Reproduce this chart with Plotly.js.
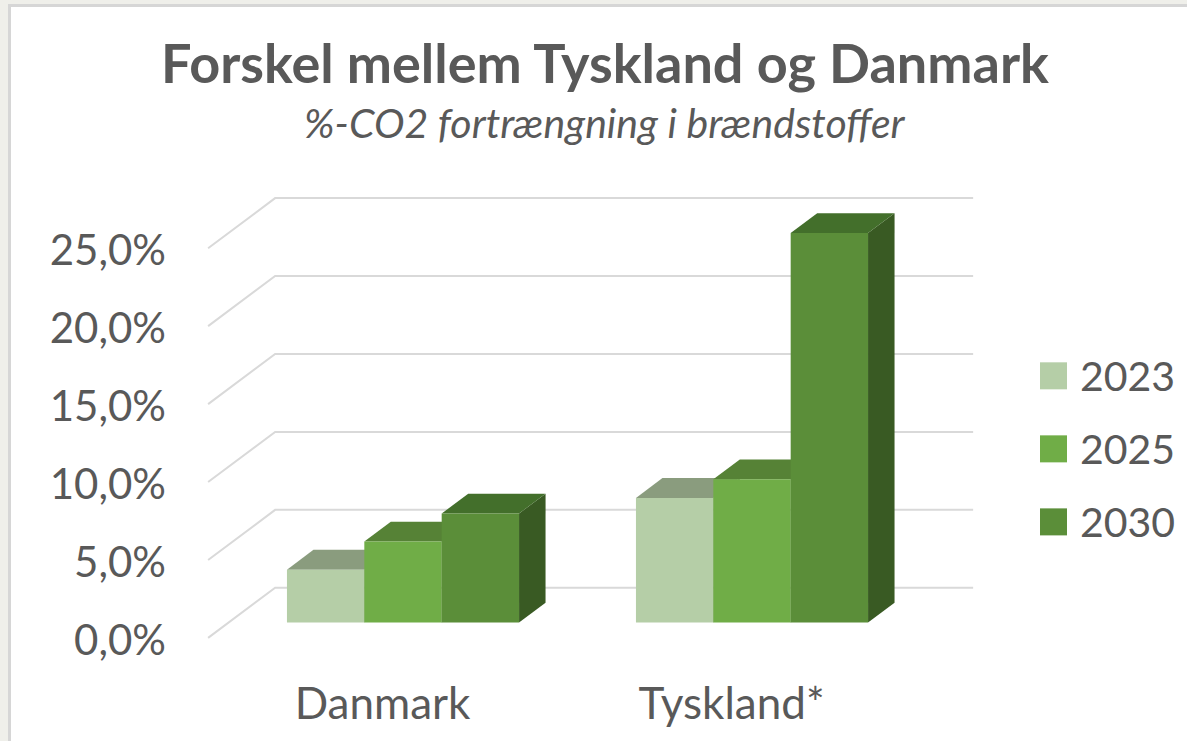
<!DOCTYPE html>
<html>
<head>
<meta charset="utf-8">
<script src="https://cdn.plot.ly/plotly-3.0.1.min.js"></script>
<style>
  html, body { margin: 0; padding: 0; background: #efefea; width: 1187px; height: 741px; overflow: hidden; }
  #frame { position: absolute; left: 8px; top: 4px; width: 1179px; height: 737px; background: #ffffff;
           border-left: 3px solid #d6d6d6; border-top: 3px solid #d6d6d6; box-sizing: border-box; }
  #chart { position: absolute; left: 0; top: 0; width: 1187px; height: 741px; }
</style>
</head>
<body>
<div id="frame"></div>
<div id="chart"></div>
<script>
// ---- data ----
const categories = ['Danmark', 'Tyskland*'];
const seriesNames = ['2023', '2025', '2030'];
const values2023 = [3.4, 8.0];
const values2025 = [5.2, 9.2];
const values2030 = [7.0, 25.0];
const yTicks = [0, 5, 10, 15, 20, 25];
const yTickLabels = ['0,0%', '5,0%', '10,0%', '15,0%', '20,0%', '25,0%'];

// ---- styling ----
const frontColors = ['#b5cea7', '#70ad47', '#5b8e39'];
const topColors   = ['#8a9c7e', '#568236', '#436f2b'];
const sideColors  = ['#7d9470', '#4a7530', '#395a23'];
const textColor = '#595959';
const FONT = 'Lato, "Open Sans", sans-serif';

const WIDTH = 1187, HEIGHT = 741;
const CAT0_PX = 403, PX_PER_CAT = 349;   // horizontal scale of bar front plane
const Y0_PX = 622.7, PX_PER_PCT = 15.58; // vertical scale of bar front plane
const Y_MIN = -1.5, Y_MAX = 27.5;
const L = 168, R = 197;
const T = Y0_PX - Y_MAX * PX_PER_PCT;
const B = HEIGHT - (Y0_PX - Y_MIN * PX_PER_PCT);
const PW = WIDTH - L - R, PH = HEIGHT - T - B;
const X_MIN = (L - CAT0_PX) / PX_PER_CAT;
const X_MAX = (WIDTH - R - CAT0_PX) / PX_PER_CAT;
const BARGAP = 0.335;
const DXU = 26.5 / PX_PER_CAT;   // one bar depth, in x units
const DYU = 19.8 / PX_PER_PCT;   // one bar depth, in y units
const FRONT = -0.77, BACK = 1.76; // floor front edge / back wall, in bar depths
const LABEL_DY = -0.15;           // small vertical nudge of value labels

const px2paperX = p => (p - L) / PW;
const px2paperY = p => 1 - (p - T) / PH;

const seriesValues = [values2023, values2025, values2030];
const nS = seriesValues.length;
const bw = (1 - BARGAP) / nS;

// ---- traces ----
const traces = seriesValues.map((vals, s) => ({
  type: 'bar', x: categories.map((c, i) => i), y: vals, name: seriesNames[s],
  marker: { color: frontColors[s], line: { width: 0 } },
  hoverinfo: 'skip', showlegend: false
}));
// carrier trace for the label axes (invisible)
traces.push({
  type: 'scatter', mode: 'markers', x: categories.map((c, i) => i), y: categories.map(() => 0),
  xaxis: 'x2', yaxis: 'y2', marker: { opacity: 0 }, hoverinfo: 'skip', showlegend: false
});

// ---- shapes: gridlines (3D walls) ----
const shapes = [];
const xl = -0.5, xr = categories.length - 0.5;
yTicks.forEach(v => {
  const ax = xl + FRONT * DXU, ay = v + FRONT * DYU;
  const bx = xl + BACK * DXU,  by = v + BACK * DYU;
  const cx = xr + BACK * DXU;
  shapes.push({ type: 'path', xref: 'x', yref: 'y', layer: 'below',
    path: `M${ax},${ay} L${bx},${by} L${cx},${by}`,
    line: { color: '#d9d9d9', width: 2 } });
});
// ---- shapes: bar tops and sides ----
categories.forEach((c, i) => {
  seriesValues.forEach((vals, s) => {
    const v = vals[i];
    const center = i + (s - (nS - 1) / 2) * bw;
    const x0 = center - bw / 2, x1 = center + bw / 2;
    shapes.push({ type: 'path', xref: 'x', yref: 'y', layer: 'below',
      path: `M${x1},0 L${x1},${v} L${x1 + DXU},${v + DYU} L${x1 + DXU},${DYU} Z`,
      fillcolor: sideColors[s], line: { width: 0 } });
    shapes.push({ type: 'path', xref: 'x', yref: 'y', layer: 'below',
      path: `M${x0},${v} L${x1},${v} L${x1 + DXU},${v + DYU} L${x0 + DXU},${v + DYU} Z`,
      fillcolor: topColors[s], line: { width: 0 } });
  });
});

// ---- custom legend ----
const annotations = [];
const LEG_X0 = 1040, LEG_SIZE = 27, LEG_Y0 = 376, LEG_STEP = 73;
seriesNames.forEach((n, s) => {
  const cy = LEG_Y0 + s * LEG_STEP;
  shapes.push({ type: 'rect', xref: 'paper', yref: 'paper', layer: 'above',
    x0: px2paperX(LEG_X0), x1: px2paperX(LEG_X0 + LEG_SIZE),
    y0: px2paperY(cy + LEG_SIZE / 2), y1: px2paperY(cy - LEG_SIZE / 2),
    fillcolor: frontColors[s], line: { width: 0 } });
  annotations.push({ xref: 'paper', yref: 'paper', x: px2paperX(1078), y: px2paperY(cy),
    xanchor: 'left', yanchor: 'middle', showarrow: false, text: n,
    font: { family: FONT, size: 41, color: textColor } });
});
// subtitle
annotations.push({ xref: 'paper', yref: 'paper', x: px2paperX(605), y: px2paperY(123),
  xanchor: 'center', yanchor: 'middle', showarrow: false,
  text: '<i>%-CO2 fortrængning i brændstoffer</i>',
  font: { family: FONT, size: 41, color: textColor } });

const layout = {
  width: WIDTH, height: HEIGHT,
  margin: { l: L, r: R, t: T, b: B, pad: 0 },
  paper_bgcolor: 'rgba(0,0,0,0)', plot_bgcolor: 'rgba(0,0,0,0)',
  separators: ',.',
  showlegend: false,
  barmode: 'group', bargap: BARGAP, bargroupgap: 0,
  title: { text: '<b>Forskel mellem Tyskland og Danmark</b>',
    xref: 'container', yref: 'container', x: 605 / WIDTH, y: 1 - 64 / HEIGHT,
    xanchor: 'center', yanchor: 'middle',
    font: { family: FONT, size: 54, color: textColor } },
  xaxis: { range: [X_MIN, X_MAX], showgrid: false, zeroline: false, showline: false,
    showticklabels: false, ticks: '', fixedrange: true },
  yaxis: { range: [Y_MIN, Y_MAX], showgrid: false, zeroline: false, showline: false,
    showticklabels: false, ticks: '', fixedrange: true },
  xaxis2: { overlaying: 'x', anchor: 'y', side: 'bottom',
    range: [X_MIN - FRONT * DXU, X_MAX - FRONT * DXU],
    tickmode: 'array', tickvals: categories.map((c, i) => i), ticktext: categories,
    showgrid: false, zeroline: false, showline: false, ticks: '',
    ticklabelstandoff: 28,
    tickfont: { family: FONT, size: 44, color: textColor } },
  yaxis2: { overlaying: 'y', anchor: 'x', side: 'left',
    range: [Y_MIN - FRONT * DYU - LABEL_DY, Y_MAX - FRONT * DYU - LABEL_DY],
    tickmode: 'array', tickvals: yTicks, ticktext: yTickLabels,
    showgrid: false, zeroline: false, showline: false, ticks: '',
    ticklabelstandoff: 1,
    tickfont: { family: FONT, size: 42, color: textColor } },
  shapes: shapes,
  annotations: annotations
};

Plotly.newPlot('chart', traces, layout, { staticPlot: true, displayModeBar: false });
</script>
</body>
</html>
